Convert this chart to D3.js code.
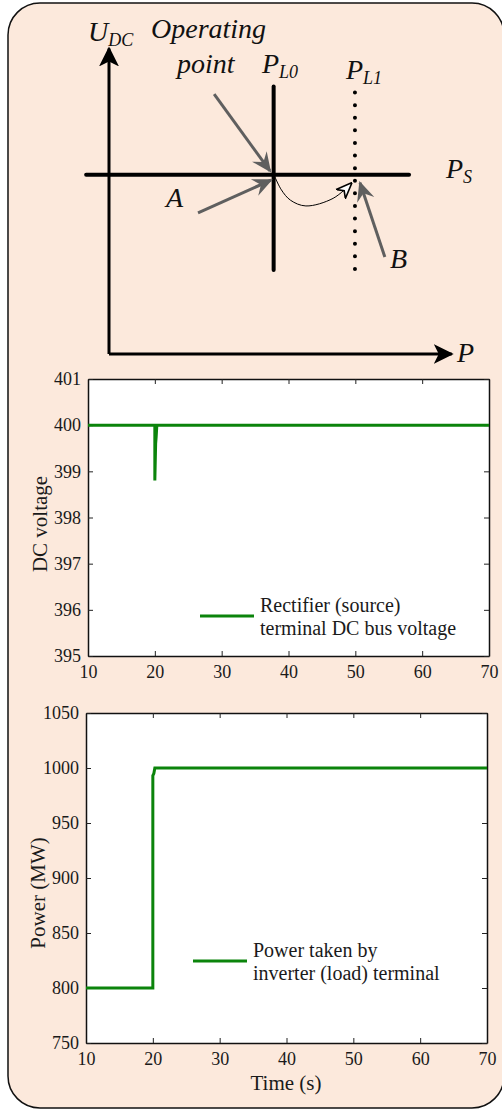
<!DOCTYPE html>
<html>
<head>
<meta charset="utf-8">
<script src="https://cdn.jsdelivr.net/npm/d3@7"></script>
<style>
  body { margin: 0; background: #fff; }
  svg { display: block; }
  .tick line { stroke: #222; }
  .domain { stroke: #111; stroke-width: 1.5; }
  .lbl { font-family: "Liberation Serif", serif; fill: #1a1a1a; }
  .dia { font-family: "Liberation Serif", serif; font-style: italic; fill: #111; }
</style>
</head>
<body>
<svg width="502" height="1111"></svg>
<script>
// time series
var voltTime = [10, 20, 20, 20.12, 20.2, 20.3, 70];
var voltValue = [400, 400, 398.8, 399.6, 399.75, 400, 400];
var powerTime = [10, 20, 20, 20.15, 20.3, 70];
var powerValue = [800, 800, 993, 995, 1000, 1000];
var timeTicks = [10, 20, 30, 40, 50, 60, 70];
var voltTicks = [395, 396, 397, 398, 399, 400, 401];
var powerTicks = [750, 800, 850, 900, 950, 1000, 1050];

// schematic operating diagram (P / U in arbitrary units 0..100)
var pL0 = 49, pL1 = 73.2, uS = 59;
var opArrow = [[31.3, 85.5], [47.9, 60.2]];
var aArrow = [[26.5, 46.4], [48.2, 57.2]];
var bArrow = [[82.1, 31.9], [74.7, 56.3]];
var pathAB = [[49.4, 58.2], [51.3, 54], [54, 50.6], [58.6, 48.7], [66.7, 51.2], [72, 56]];

var green = '#0b840b';
var svg = d3.select('svg');

// background panel
svg.append('rect')
  .attr('x', 8).attr('y', 3)
  .attr('width', 496).attr('height', 1105)
  .attr('rx', 32).attr('ry', 32)
  .attr('fill', '#fce9dc')
  .attr('stroke', '#111')
  .attr('stroke-width', 1.5);

// ---------- diagram ----------
var xD = d3.scaleLinear().domain([0, 100]).range([109, 445]);
var yD = d3.scaleLinear().domain([0, 100]).range([354, 50]);
var defs = svg.append('defs');
defs.append('marker')
  .attr('id', 'blk').attr('viewBox', '0 0 10 10')
  .attr('refX', 9).attr('refY', 5)
  .attr('markerWidth', 20).attr('markerHeight', 20)
  .attr('markerUnits', 'userSpaceOnUse')
  .attr('orient', 'auto')
  .append('path').attr('d', 'M0,0 L10,5 L0,10 L2.5,5 z').attr('fill', '#000');
defs.append('marker')
  .attr('id', 'gry').attr('viewBox', '0 0 10 10')
  .attr('refX', 9).attr('refY', 5)
  .attr('markerWidth', 20).attr('markerHeight', 20)
  .attr('markerUnits', 'userSpaceOnUse')
  .attr('orient', 'auto')
  .append('path').attr('d', 'M0,0.5 L10,5 L0,9.5 L3.5,5 z').attr('fill', '#5f5f5f');
defs.append('marker')
  .attr('id', 'open').attr('viewBox', '0 0 10 10')
  .attr('refX', 9).attr('refY', 5)
  .attr('markerWidth', 16).attr('markerHeight', 16)
  .attr('markerUnits', 'userSpaceOnUse')
  .attr('orient', 'auto')
  .append('path').attr('d', 'M0,1 L10,5 L0,9 L3,5 z')
  .attr('fill', '#fff').attr('stroke', '#000').attr('stroke-width', 1);

var dia = svg.append('g');
// axes
dia.append('line')
  .attr('x1', xD(0)).attr('y1', yD(0)).attr('x2', xD(0)).attr('y2', yD(100.5))
  .attr('stroke', '#000').attr('stroke-width', 3).attr('marker-end', 'url(#blk)');
dia.append('line')
  .attr('x1', xD(0)).attr('y1', yD(0)).attr('x2', xD(102)).attr('y2', yD(0))
  .attr('stroke', '#000').attr('stroke-width', 3).attr('marker-end', 'url(#blk)');
// source line and load lines
dia.append('line')
  .attr('x1', xD(-6.8)).attr('x2', xD(89.3)).attr('y1', yD(uS)).attr('y2', yD(uS))
  .attr('stroke', '#000').attr('stroke-width', 4).attr('stroke-linecap', 'round');
dia.append('line')
  .attr('x1', xD(pL0)).attr('x2', xD(pL0)).attr('y1', yD(88)).attr('y2', yD(27.6))
  .attr('stroke', '#000').attr('stroke-width', 4).attr('stroke-linecap', 'round');
dia.append('line')
  .attr('x1', xD(pL1)).attr('x2', xD(pL1)).attr('y1', yD(86)).attr('y2', yD(27.6))
  .attr('stroke', '#000').attr('stroke-width', 4).attr('stroke-linecap', 'round')
  .attr('stroke-dasharray', '0 12.6');

// transition path A -> B
dia.append('path')
  .datum(pathAB)
  .attr('d', d3.line().x(function(d) { return xD(d[0]); }).y(function(d) { return yD(d[1]); }).curve(d3.curveCatmullRom))
  .attr('fill', 'none').attr('stroke', '#000').attr('stroke-width', 1)
  .attr('marker-end', 'url(#open)');

[opArrow, aArrow, bArrow].forEach(function(a) {
  dia.append('line')
    .attr('x1', xD(a[0][0])).attr('y1', yD(a[0][1]))
    .attr('x2', xD(a[1][0])).attr('y2', yD(a[1][1]))
    .attr('stroke', '#5f5f5f').attr('stroke-width', 3)
    .attr('marker-end', 'url(#gry)');
});

function diaText(x, y, main, sub) {
  var t = dia.append('text').attr('class', 'dia').attr('x', x).attr('y', y)
    .style('font-size', '28px');
  t.append('tspan').text(main);
  if (sub) {
    t.append('tspan').attr('dy', 5).style('font-size', '18px').text(sub);
  }
}
diaText(88, 41, 'U', 'DC');
diaText(151, 38, 'Operating');
diaText(177, 73, 'point');
diaText(262, 73, 'P', 'L0');
diaText(346, 79, 'P', 'L1');
diaText(446, 178, 'P', 'S');
diaText(166, 207, 'A');
diaText(390, 268, 'B');
diaText(457, 362, 'P');

// ---------- time plots ----------
function styleTicks(sel) {
  sel.attr('font-family', null).attr('font-size', null);
  sel.selectAll('.tick text')
    .style('font-family', '"Liberation Serif", serif')
    .style('font-size', '18px')
    .style('fill', '#1a1a1a');
}

function drawPlot(opt) {
  var left = opt.left, right = opt.right, top = opt.top, bottom = opt.bottom;
  var x = d3.scaleLinear().domain([10, 70]).range([left, right]);
  var y = d3.scaleLinear().domain(opt.yDomain).range([bottom, top]);
  var g = svg.append('g');

  g.append('rect')
    .attr('x', left).attr('y', top)
    .attr('width', right - left).attr('height', bottom - top)
    .attr('fill', '#fff');

  g.append('g')
    .attr('transform', 'translate(0,' + bottom + ')')
    .call(d3.axisBottom(x).tickValues(timeTicks).tickFormat(d3.format('d'))
      .tickSizeInner(-5).tickSizeOuter(0).tickPadding(9))
    .call(styleTicks);
  g.append('g')
    .attr('transform', 'translate(0,' + top + ')')
    .call(d3.axisTop(x).tickValues(timeTicks).tickSizeInner(-5).tickSizeOuter(0).tickFormat(''));
  g.append('g')
    .attr('transform', 'translate(' + left + ',0)')
    .call(d3.axisLeft(y).tickValues(opt.yTicks).tickFormat(d3.format('d'))
      .tickSizeInner(-5).tickSizeOuter(0).tickPadding(7))
    .call(styleTicks);
  g.append('g')
    .attr('transform', 'translate(' + right + ',0)')
    .call(d3.axisRight(y).tickValues(opt.yTicks).tickSizeInner(-5).tickSizeOuter(0).tickFormat(''));

  var pts = opt.t.map(function(t, i) { return [t, opt.v[i]]; });
  g.append('path')
    .datum(pts)
    .attr('d', d3.line().x(function(d) { return x(d[0]); }).y(function(d) { return y(d[1]); }))
    .attr('fill', 'none').attr('stroke', green).attr('stroke-width', 3);

  g.append('text').attr('class', 'lbl')
    .attr('transform', 'translate(' + opt.yLabelX + ',' + opt.yLabelY + ') rotate(-90)')
    .attr('text-anchor', 'middle').attr('dy', '0.35em')
    .style('font-size', '21px')
    .text(opt.yLabel);

  // legend
  g.append('line')
    .attr('x1', opt.legX).attr('x2', opt.legX + 54)
    .attr('y1', opt.legY).attr('y2', opt.legY)
    .attr('stroke', green).attr('stroke-width', 3);
  var lt = g.append('text').attr('class', 'lbl').style('font-size', '20px');
  opt.legText.forEach(function(s, i) {
    lt.append('tspan').attr('x', opt.legX + 60).attr('y', opt.legY - 4 + i * 23).text(s);
  });
  return g;
}

drawPlot({
  left: 88, right: 489, top: 379, bottom: 656,
  yDomain: [395, 401], yTicks: voltTicks,
  t: voltTime, v: voltValue,
  yLabel: 'DC voltage', yLabelX: 40, yLabelY: 524,
  legX: 200, legY: 616,
  legText: ['Rectifier (source)', 'terminal DC bus voltage']
});

drawPlot({
  left: 86, right: 487, top: 713, bottom: 1043,
  yDomain: [750, 1050], yTicks: powerTicks,
  t: powerTime, v: powerValue,
  yLabel: 'Power (MW)', yLabelX: 38, yLabelY: 893,
  legX: 193, legY: 961,
  legText: ['Power taken by', 'inverter (load) terminal']
});

svg.append('text').attr('class', 'lbl')
  .attr('x', 286).attr('y', 1090)
  .attr('text-anchor', 'middle')
  .style('font-size', '21px')
  .text('Time (s)');
</script>
</body>
</html>
